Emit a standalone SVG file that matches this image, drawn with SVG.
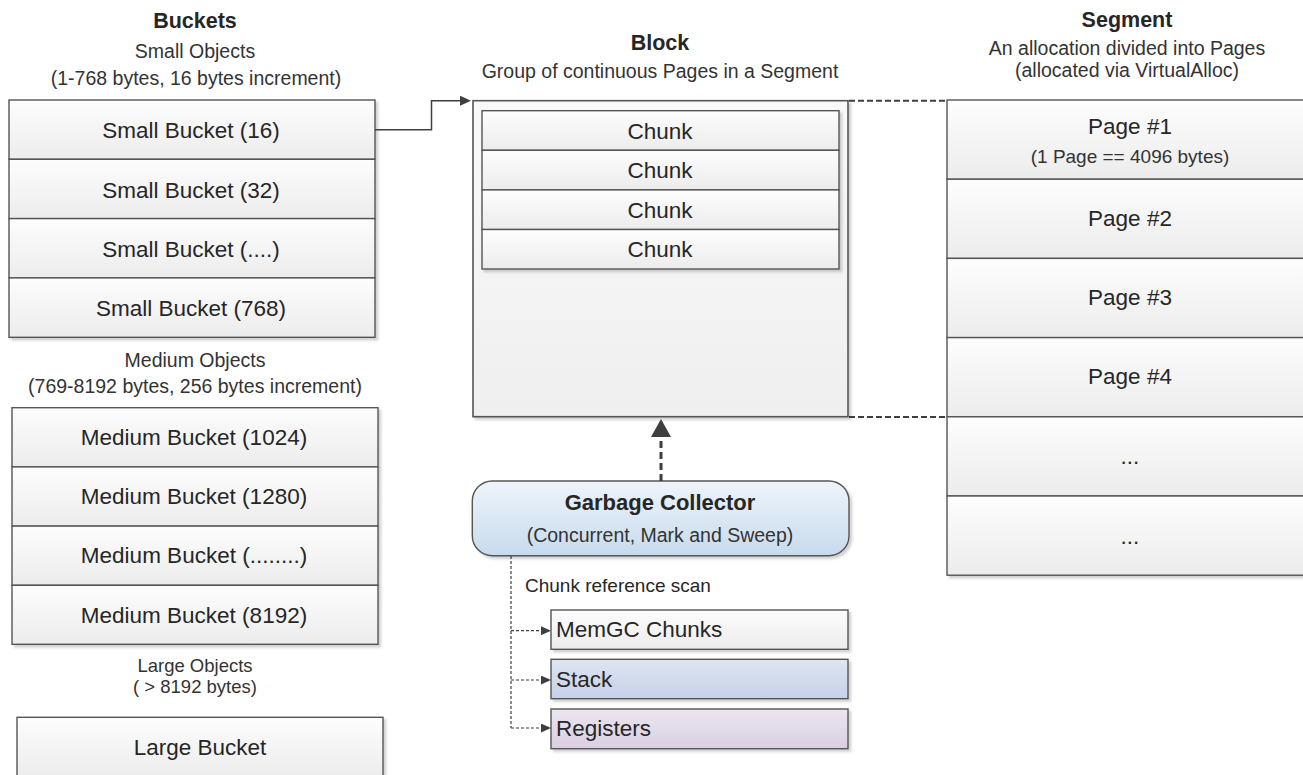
<svg xmlns="http://www.w3.org/2000/svg" width="1303" height="775" viewBox="0 0 1303 775">
  <defs>
    <linearGradient id="gGray" x1="0" y1="0" x2="0" y2="1">
      <stop offset="0" stop-color="#fdfdfd"/>
      <stop offset="1" stop-color="#ececec"/>
    </linearGradient>
    <linearGradient id="gBlock" x1="0" y1="0" x2="0" y2="1">
      <stop offset="0" stop-color="#f9f9f9"/>
      <stop offset="1" stop-color="#efefef"/>
    </linearGradient>
    <linearGradient id="gBlue" x1="0" y1="0" x2="0" y2="1">
      <stop offset="0" stop-color="#eef4fa"/>
      <stop offset="1" stop-color="#c7dbed"/>
    </linearGradient>
    <linearGradient id="gStack" x1="0" y1="0" x2="0" y2="1">
      <stop offset="0" stop-color="#dfe5f3"/>
      <stop offset="1" stop-color="#c6d0e8"/>
    </linearGradient>
    <linearGradient id="gRegs" x1="0" y1="0" x2="0" y2="1">
      <stop offset="0" stop-color="#ece6f0"/>
      <stop offset="1" stop-color="#d9cfe1"/>
    </linearGradient>
    <filter id="ds" x="-5%" y="-5%" width="115%" height="120%">
      <feDropShadow dx="2.5" dy="2.5" stdDeviation="1" flood-color="#000" flood-opacity="0.18"/>
    </filter>
    <marker id="arrSolid" markerUnits="userSpaceOnUse" markerWidth="11" markerHeight="10" refX="0" refY="5" orient="auto">
      <path d="M0,0 L11,5 L0,10 z" fill="#3f3f3f"/>
    </marker>
    <marker id="arrBig" markerUnits="userSpaceOnUse" markerWidth="18" markerHeight="20" refX="0" refY="10" orient="auto">
      <path d="M0,0 L18,10 L0,20 z" fill="#3f3f3f"/>
    </marker>
    <marker id="arrSmall" markerUnits="userSpaceOnUse" markerWidth="10" markerHeight="9" refX="0" refY="4.5" orient="auto">
      <path d="M0,0 L10,4.5 L0,9 z" fill="#3f3f3f"/>
    </marker>
  </defs>
  <style>
    text { font-family: "Liberation Sans", Arial, sans-serif; fill: #262626; }
    .title { font-size: 21.5px; font-weight: bold; text-anchor: middle; }
    .sub { font-size: 19.5px; text-anchor: middle; fill: #333333; }
    .lbl { font-size: 22.5px; text-anchor: middle; }
    .lft { font-size: 22.5px; text-anchor: start; }
    .cell { fill: url(#gGray); stroke: #555555; stroke-width: 1.4; }
    .sh { filter: url(#ds); }
    .conn { fill: none; stroke: #3f3f3f; }
  </style>

  <rect width="1303" height="775" fill="#ffffff"/>

  <!-- Buckets column -->
  <g id="buckets-title">
    <text class="title" x="195" y="28">Buckets</text>
    <text class="sub" x="195" y="58">Small Objects</text>
    <text class="sub" x="196" y="85">(1-768 bytes, 16 bytes increment)</text>
  </g>

  <g id="small-buckets">
    <g class="sh">
      <rect class="cell" x="9" y="100" width="366" height="59.3"/>
      <rect class="cell" x="9" y="159.3" width="366" height="59.3"/>
      <rect class="cell" x="9" y="218.6" width="366" height="59.3"/>
      <rect class="cell" x="9" y="277.9" width="366" height="59.4"/>
    </g>
    <text class="lbl" x="191" y="138">Small Bucket (16)</text>
    <text class="lbl" x="191" y="197.5">Small Bucket (32)</text>
    <text class="lbl" x="191" y="256.8">Small Bucket (....)</text>
    <text class="lbl" x="191" y="316">Small Bucket (768)</text>
  </g>

  <g id="medium-title">
    <text class="sub" x="195" y="367">Medium Objects</text>
    <text class="sub" x="195" y="393">(769-8192 bytes, 256 bytes increment)</text>
  </g>

  <g id="medium-buckets">
    <g class="sh">
      <rect class="cell" x="12" y="407.7" width="366" height="59.2"/>
      <rect class="cell" x="12" y="466.9" width="366" height="59.2"/>
      <rect class="cell" x="12" y="526.1" width="366" height="59.2"/>
      <rect class="cell" x="12" y="585.3" width="366" height="59"/>
    </g>
    <text class="lbl" x="194" y="445">Medium Bucket (1024)</text>
    <text class="lbl" x="194" y="504.2">Medium Bucket (1280)</text>
    <text class="lbl" x="194" y="563.4">Medium Bucket (........)</text>
    <text class="lbl" x="194" y="622.5">Medium Bucket (8192)</text>
  </g>

  <g id="large-title">
    <text class="sub" x="195" y="672" style="font-size:18.5px">Large Objects</text>
    <text class="sub" x="195" y="693" style="font-size:18.5px">( &gt; 8192 bytes)</text>
  </g>

  <g id="large-bucket">
    <rect class="cell sh" x="17" y="717.3" width="366" height="60"/>
    <text class="lbl" x="200" y="755">Large Bucket</text>
  </g>

  <!-- Block with its chunks -->
  <g id="block-title">
    <text class="title" x="660" y="50">Block</text>
    <text class="sub" x="660" y="78">Group of continuous Pages in a Segment</text>
  </g>

  <g id="block">
    <rect class="sh" x="473" y="100.7" width="375" height="316" fill="url(#gBlock)" stroke="#555555" stroke-width="1.6"/>
    <g class="sh">
      <rect class="cell" x="482" y="110.7" width="357" height="39.6"/>
      <rect class="cell" x="482" y="150.3" width="357" height="39.6"/>
      <rect class="cell" x="482" y="189.9" width="357" height="39.6"/>
      <rect class="cell" x="482" y="229.5" width="357" height="39.5"/>
    </g>
    <text class="lbl" x="660" y="138.5">Chunk</text>
    <text class="lbl" x="660" y="178">Chunk</text>
    <text class="lbl" x="660" y="217.6">Chunk</text>
    <text class="lbl" x="660" y="257.2">Chunk</text>
  </g>

  <!-- Segment made of pages -->
  <g id="segment-title">
    <text class="title" x="1127" y="27">Segment</text>
    <text class="sub" x="1127" y="55">An allocation divided into Pages</text>
    <text class="sub" x="1127" y="77">(allocated via VirtualAlloc)</text>
  </g>

  <g id="segment">
    <g class="sh">
      <rect class="cell" x="947" y="100" width="370" height="79.2"/>
      <rect class="cell" x="947" y="179.2" width="370" height="79.2"/>
      <rect class="cell" x="947" y="258.4" width="370" height="79.2"/>
      <rect class="cell" x="947" y="337.6" width="370" height="79.2"/>
      <rect class="cell" x="947" y="416.8" width="370" height="79.2"/>
      <rect class="cell" x="947" y="496" width="370" height="79.2"/>
    </g>
    <text class="lbl" x="1130" y="133.5">Page #1</text>
    <text class="sub" x="1130" y="163.3" style="font-size:19px">(1 Page == 4096 bytes)</text>
    <text class="lbl" x="1130" y="226">Page #2</text>
    <text class="lbl" x="1130" y="305.3">Page #3</text>
    <text class="lbl" x="1130" y="384.3">Page #4</text>
    <text class="lbl" x="1130" y="464">...</text>
    <text class="lbl" x="1130" y="543.5">...</text>
  </g>

  <!-- Garbage collector and the roots it scans -->
  <g id="garbage-collector">
    <rect class="sh" x="472.3" y="481" width="376.7" height="74.7" rx="20" ry="20" fill="url(#gBlue)" stroke="#555555" stroke-width="1.4"/>
    <text class="title" x="660" y="510" style="font-size:22px">Garbage Collector</text>
    <text class="sub" x="660" y="541.5">(Concurrent, Mark and Sweep)</text>
  </g>

  <g id="scan-label">
    <text x="525" y="591.5" style="font-size:19px">Chunk reference scan</text>
  </g>

  <g id="memgc-chunks">
    <rect class="cell sh" x="551" y="610" width="297" height="39.3"/>
    <text class="lft" x="556" y="637">MemGC Chunks</text>
  </g>

  <g id="stack">
    <rect class="sh" x="551" y="659.3" width="297" height="39.4" fill="url(#gStack)" stroke="#555555" stroke-width="1.4"/>
    <text class="lft" x="556" y="687">Stack</text>
  </g>

  <g id="registers">
    <rect class="sh" x="551" y="709" width="297" height="39.7" fill="url(#gRegs)" stroke="#555555" stroke-width="1.4"/>
    <text class="lft" x="556" y="736">Registers</text>
  </g>

  <!-- Connectors -->
  <g id="connectors">
    <path class="conn" d="M375,129.7 H431.5 V100.7 H460" stroke-width="1.5" marker-end="url(#arrSolid)"/>
    <path class="conn" d="M849,100.7 H947" stroke-width="2" stroke-dasharray="6 3"/>
    <path class="conn" d="M849,417 H947" stroke-width="2" stroke-dasharray="6 3"/>
    <path class="conn" d="M661,481 V437" stroke-width="3" stroke-dasharray="7 4" marker-end="url(#arrBig)"/>
    <path class="conn" d="M511,556 V728" stroke-width="1.2" stroke-dasharray="3 2"/>
    <path class="conn" d="M511,630.7 H541" stroke-width="1.2" stroke-dasharray="3 2" marker-end="url(#arrSmall)"/>
    <path class="conn" d="M511,680 H541" stroke-width="1.2" stroke-dasharray="3 2" marker-end="url(#arrSmall)"/>
    <path class="conn" d="M511,728 H541" stroke-width="1.2" stroke-dasharray="3 2" marker-end="url(#arrSmall)"/>
  </g>
</svg>
